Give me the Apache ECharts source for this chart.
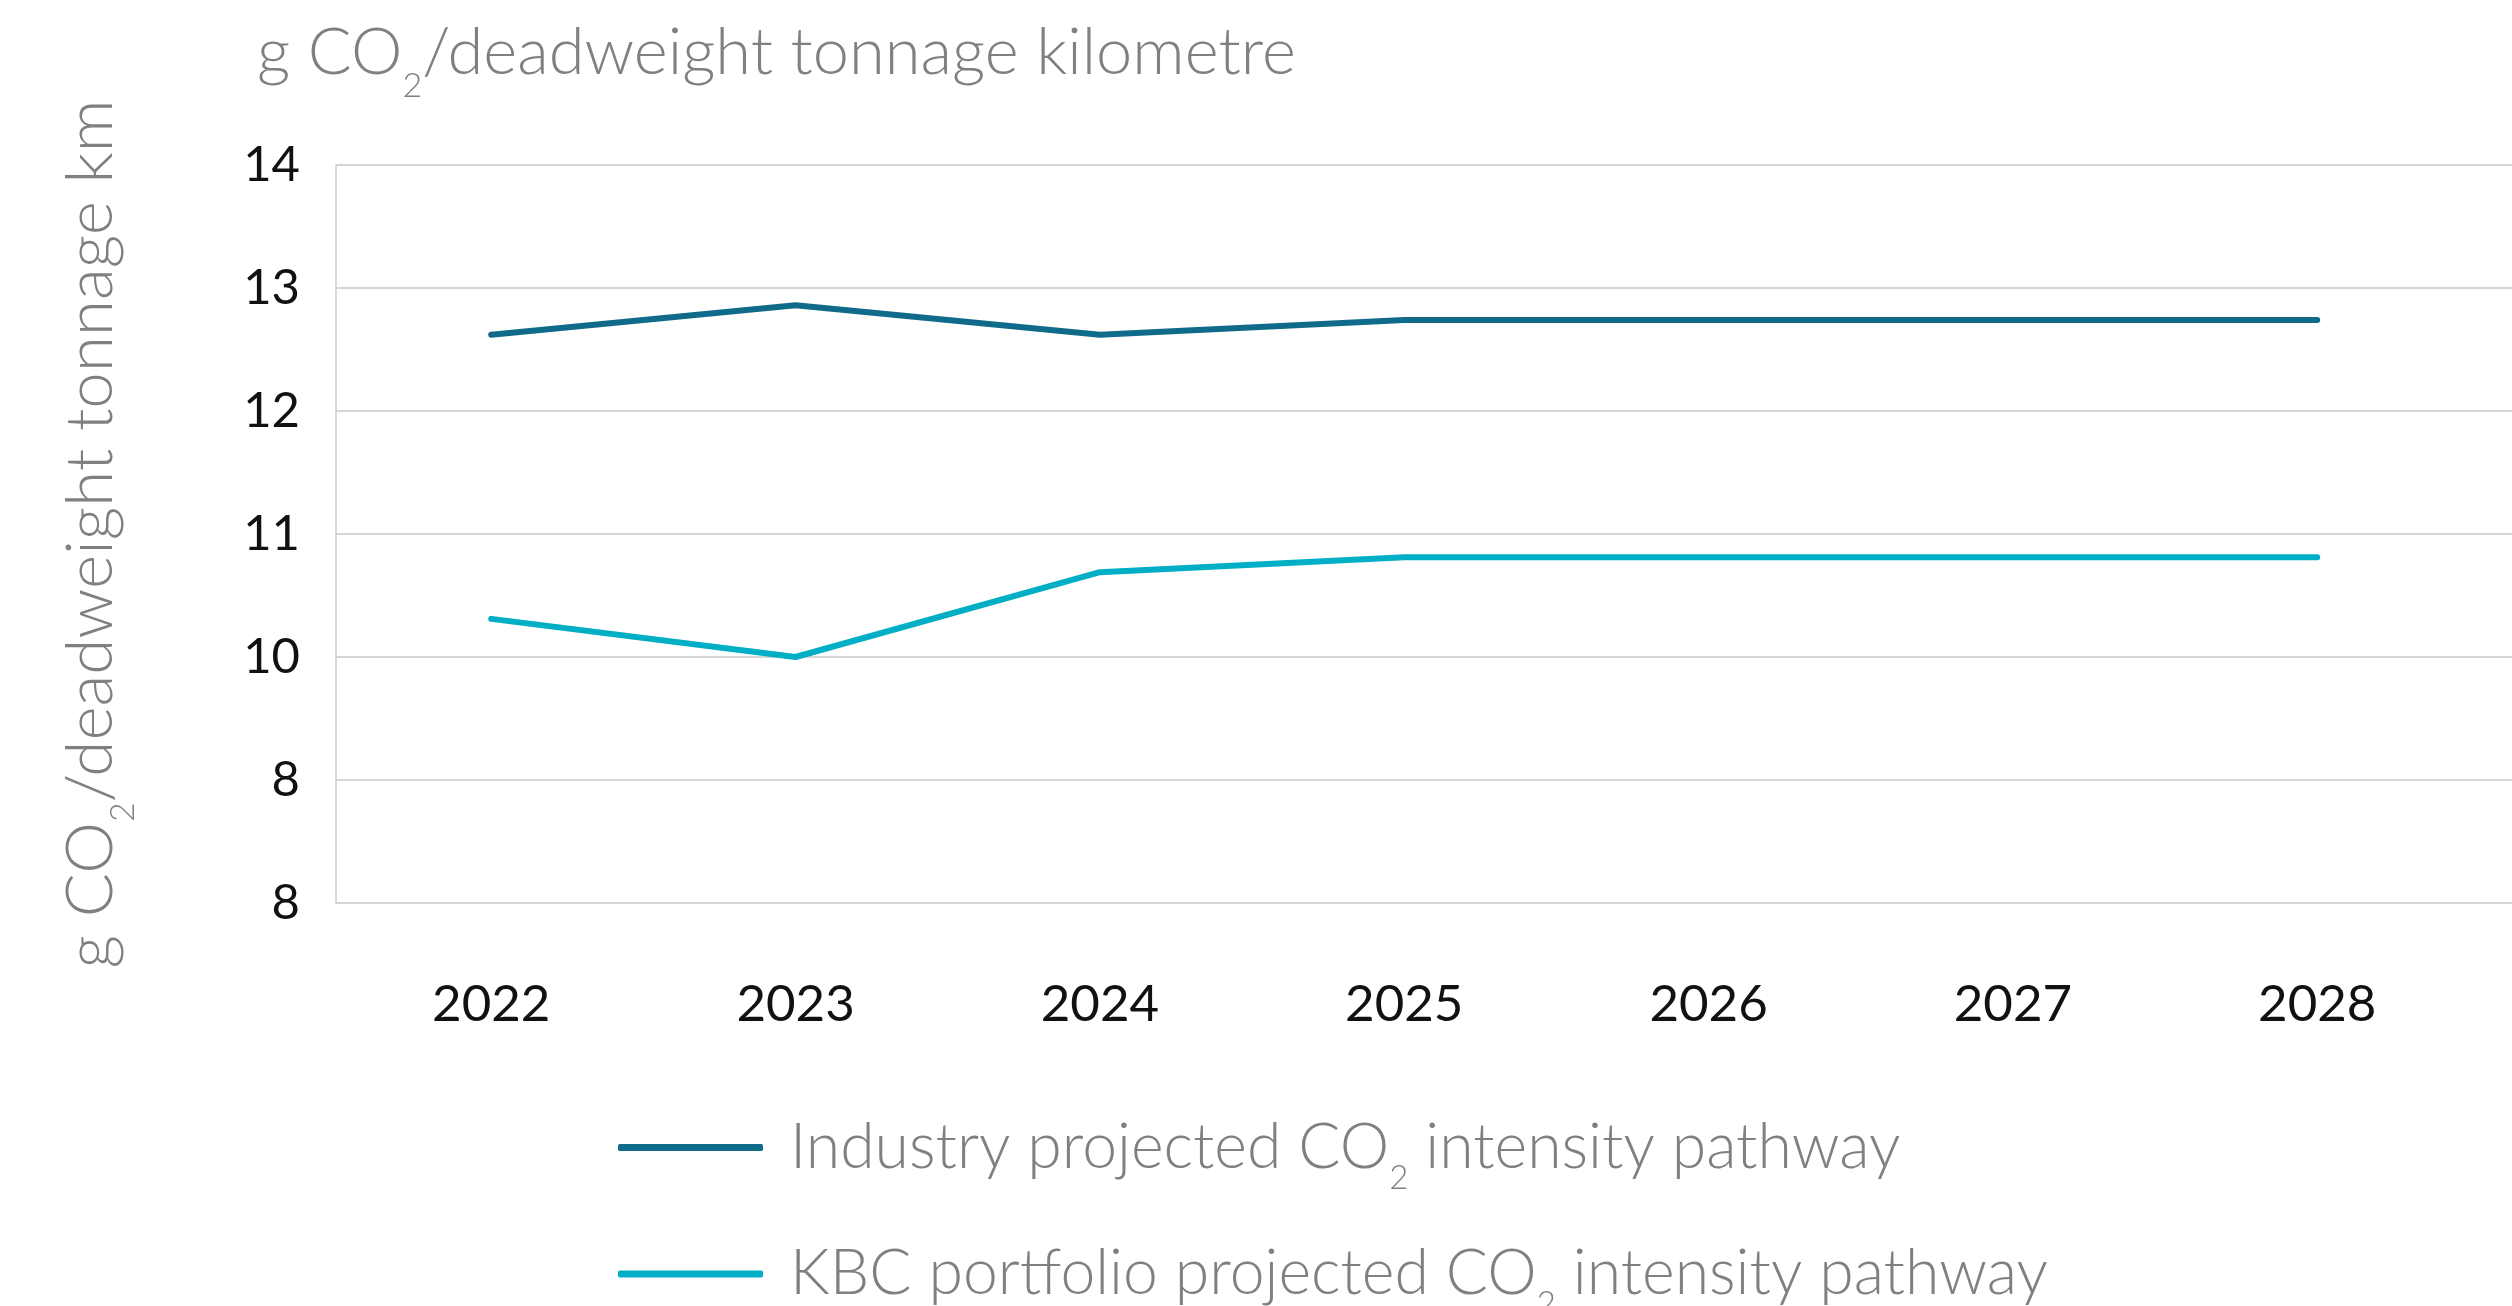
<!DOCTYPE html>
<html>
<head>
<meta charset="utf-8">
<title>CO2 intensity pathway</title>
<script src="https://cdn.jsdelivr.net/npm/echarts@6/dist/echarts.min.js"></script>
<style>
  html, body { margin: 0; padding: 0; background: #ffffff; }
  #chart { width: 2512px; height: 1306px; }
</style>
</head>
<body>
<div id="chart"></div>
<script>
// Years on the horizontal axis
const years = [2022, 2023, 2024, 2025, 2026, 2027, 2028];

// g CO2 per deadweight tonnage km
const industryPathway = [12.62, 12.86, 12.62, 12.74, 12.74, 12.74, 12.74];
const kbcPathway = [10.31, 10.0, 10.69, 10.81, 10.81, 10.81, 10.81];

// Vertical axis tick values and the text printed at each
const yTicks = [8, 9, 10, 11, 12, 13, 14];
const yTickLabels = ['8', '8', '10', '11', '12', '13', '14'];

const seriesNames = [
  'Industry projected CO2 intensity pathway',
  'KBC portfolio projected CO2 intensity pathway'
];
const seriesColors = ['#106b8a', '#00aec6'];

const FONT = 'Lato, "Noto Sans", sans-serif';
const GREY = '#808080';

// "CO2" with a subscript 2, as rich text
function withSub(str, style) {
  return str.split('CO2').map(p => '{' + style + '|' + p + '}').join('{' + style + '|CO}{sub|2}');
}

function richStyles(key, size, lh) {
  const r = {};
  r[key] = { fontFamily: FONT, fontSize: size, fontWeight: 300, color: GREY, lineHeight: lh };
  r.sub = {
    fontFamily: FONT, fontSize: Math.round(size * 0.52), fontWeight: 300, color: GREY,
    verticalAlign: 'bottom', padding: [0, 0, -Math.round(size * 0.17), 0], lineHeight: lh
  };
  return r;
}

const chart = echarts.init(document.getElementById('chart'), null, { renderer: 'canvas' });

chart.setOption({
  animation: false,
  backgroundColor: '#ffffff',
  textStyle: { fontFamily: FONT },
  title: {
    left: 257,
    top: 14,
    padding: 0,
    text: withSub('g CO2/deadweight tonnage kilometre', 't'),
    textStyle: { fontWeight: 300, rich: richStyles('t', 65, 78) }
  },
  grid: { left: 336, right: 0, top: 165, bottom: 403, containLabel: false },
  xAxis: {
    type: 'value',
    min: 2021.49,
    max: 2028.64,
    axisLine: { show: false },
    axisTick: { show: false },
    splitLine: { show: false },
    axisLabel: {
      customValues: years,
      margin: 76,
      color: '#111111',
      fontFamily: FONT,
      fontSize: 51,
      formatter: v => String(v)
    }
  },
  yAxis: {
    type: 'value',
    min: yTicks[0],
    max: yTicks[yTicks.length - 1],
    interval: 1,
    name: withSub('g CO2/deadweight tonnage km', 'n'),
    nameLocation: 'middle',
    nameRotate: 90,
    nameGap: 207,
    nameTextStyle: { fontWeight: 300, rich: richStyles('n', 65.5, 76) },
    axisLine: { show: true, lineStyle: { color: '#cccccc', width: 1.5 } },
    axisTick: { show: false },
    splitLine: { show: true, lineStyle: { color: '#c8c8c8', width: 1.5 } },
    axisLabel: {
      margin: 36,
      color: '#111111',
      fontFamily: FONT,
      fontSize: 49,
      formatter: v => yTickLabels[yTicks.indexOf(v)]
    }
  },
  legend: {
    orient: 'vertical',
    left: 618,
    top: 1116,
    height: 400,
    padding: 0,
    itemWidth: 145,
    itemHeight: 7,
    itemGap: 48,
    icon: 'roundRect',
    data: seriesNames,
    formatter: name => withSub(name, 'l'),
    textStyle: {
      padding: [0, 0, 0, 22],
      rich: richStyles('l', 62.5, 72)
    }
  },
  series: [
    {
      name: seriesNames[0],
      type: 'line',
      data: years.map((y, i) => [y, industryPathway[i]]),
      symbol: 'none',
      color: seriesColors[0],
      lineStyle: { width: 6, cap: 'round', color: seriesColors[0] }
    },
    {
      name: seriesNames[1],
      type: 'line',
      data: years.map((y, i) => [y, kbcPathway[i]]),
      symbol: 'none',
      color: seriesColors[1],
      lineStyle: { width: 6, cap: 'round', color: seriesColors[1] }
    }
  ]
});
</script>
</body>
</html>
